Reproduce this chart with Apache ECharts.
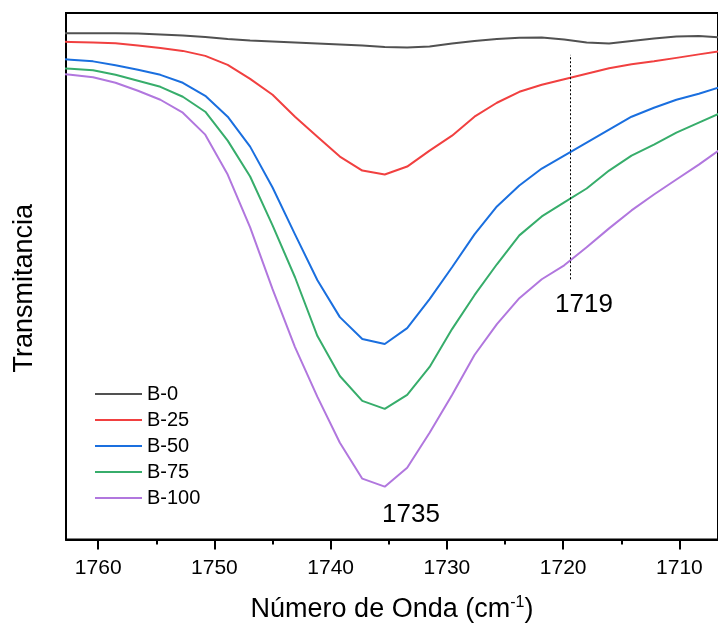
<!DOCTYPE html>
<html>
<head>
<meta charset="utf-8">
<title>Transmitancia</title>
<script src="https://cdn.jsdelivr.net/npm/echarts@6/dist/echarts.min.js"></script>
<style>
  html, body { margin: 0; padding: 0; background: #fff; }
  #chart { width: 718px; height: 628px; }
</style>
</head>
<body>
<div id="chart"></div>
<script>
// wavenumber (cm-1), data points about 1.93 cm-1 apart
const wavenumber = [1764.30, 1762.37, 1760.44, 1758.51, 1756.58, 1754.65, 1752.72, 1750.79,
  1748.86, 1746.93, 1745.00, 1743.07, 1741.14, 1739.21, 1737.28, 1735.35, 1733.42, 1731.49,
  1729.56, 1727.63, 1725.70, 1723.77, 1721.84, 1719.91, 1717.98, 1716.05, 1714.12, 1712.19,
  1710.26, 1708.33, 1706.40];

// transmittance, arbitrary units
const b0 = [507.7, 507.7, 507.7, 507.7, 507.5, 506.5, 505.5, 504, 502, 500.5, 499.5, 498.5,
  497.5, 496.5, 495.5, 494, 493.5, 494.5, 497.5, 500, 502, 503.2, 503.5, 501.5, 498.5, 497.5,
  500, 502.5, 504.5, 505, 503.5];
const b25 = [499.5, 499, 498.5, 497.7, 495.5, 493, 490, 485, 476, 462, 446, 424, 404, 384,
  370, 366, 374, 390, 405, 424, 438, 449, 456, 461.5, 467, 472.5, 476.5, 479.5, 483, 486.5, 490];
const b50 = [482.5, 481.2, 479.5, 475.5, 471, 466, 458, 445, 424, 394, 353, 306, 260, 223,
  201, 196, 212, 241, 273, 306, 334, 355, 372, 385, 398, 411, 424, 433, 441, 447, 454];
const b75 = [473, 472, 470.5, 466, 460, 454, 444, 429, 400, 364, 315, 263, 204, 164, 139,
  131, 145, 173, 211, 245, 276, 305, 324, 338, 352, 370, 385, 396, 408, 418, 428];
const b100 = [468, 466, 463.5, 458, 450, 441, 428, 406, 366, 313, 251, 193, 143, 97, 61, 53,
  72, 107, 145, 185, 216, 242, 261, 275, 293, 312, 330, 346, 361, 376, 392];

const seriesNames = ['B-0', 'B-25', 'B-50', 'B-75', 'B-100'];
const seriesData = [b0, b25, b50, b75, b100];
const colors = ['#515151', '#F14040', '#1A6FDF', '#37AD6B', '#B177DE'];

const majorTicks = [1710, 1720, 1730, 1740, 1750, 1760];
const minorTicks = [1715, 1725, 1735, 1745, 1755];

// dotted marker at 1719 (y from/to in the same units as the data)
const markerX = 1719.4;
const markerY = [261, 486];

const font = "'Liberation Sans', Arial, sans-serif";
const xMin = 1706.68;
const xMax = 1762.77;

const chart = echarts.init(document.getElementById('chart'));

const series = seriesNames.map((name, i) => {
  const s = {
    name: name,
    type: 'line',
    xAxisIndex: 0,
    data: wavenumber.map((w, j) => [w, seriesData[i][j]]),
    symbol: 'none',
    clip: true,
    lineStyle: { color: colors[i], width: 2 },
    itemStyle: { color: colors[i] },
  };
  if (i === 0) {
    s.markLine = {
      silent: true,
      symbol: ['none', 'none'],
      label: { show: false },
      lineStyle: { color: '#000', width: 1, type: [2, 2] },
      data: [[{ coord: [markerX, markerY[0]] }, { coord: [markerX, markerY[1]] }]],
    };
  }
  return s;
});

const option = {
  animation: false,
  backgroundColor: '#fff',
  textStyle: { fontFamily: font },
  grid: {
    left: 66,
    top: 13,
    right: -3,
    bottom: 87,
    show: true,
    borderColor: '#000',
    borderWidth: 2,
  },
  legend: {
    orient: 'vertical',
    left: 90,
    top: 379,
    icon: 'rect',
    itemWidth: 47,
    itemHeight: 2,
    itemGap: 6,
    textStyle: { fontSize: 20, color: '#000', fontFamily: font, lineHeight: 20 },
    data: seriesNames,
  },
  xAxis: [
    {
      type: 'value',
      inverse: true,
      min: xMin,
      max: xMax,
      position: 'bottom',
      name: 'Número de Onda (cm{sup|-1})',
      nameLocation: 'middle',
      nameGap: 55,
      nameTextStyle: {
        fontSize: 27,
        color: '#000',
        fontFamily: font,
        rich: {
          sup: { fontSize: 16, verticalAlign: 'top', padding: [0, 0, 14, 0], color: '#000', fontFamily: font },
        },
      },
      axisLine: { lineStyle: { color: '#000', width: 2 } },
      axisTick: { customValues: majorTicks, length: 10, lineStyle: { color: '#000', width: 2 } },
      axisLabel: {
        customValues: majorTicks,
        formatter: (v) => String(Math.round(v)),
        fontSize: 21,
        color: '#000',
        margin: 18,
        fontFamily: font,
      },
      splitLine: { show: false },
    },
    {
      type: 'value',
      inverse: true,
      min: xMin,
      max: xMax,
      position: 'bottom',
      axisLine: { show: false },
      axisTick: { customValues: minorTicks, length: 5, lineStyle: { color: '#000', width: 2 } },
      axisLabel: { show: false },
      splitLine: { show: false },
    },
  ],
  yAxis: {
    type: 'value',
    min: 0,
    max: 528,
    name: 'Transmitancia',
    nameLocation: 'middle',
    nameGap: 28,
    nameTextStyle: { fontSize: 27, color: '#000', fontFamily: font, padding: [0, 24, 0, 0] },
    axisLine: { show: true, lineStyle: { color: '#000', width: 2 } },
    axisTick: { show: false },
    axisLabel: { show: false },
    splitLine: { show: false },
  },
  graphic: [
    {
      type: 'text',
      x: 411,
      y: 515,
      style: { text: '1735', font: '26px ' + font, fill: '#000', textAlign: 'center', textVerticalAlign: 'middle' },
    },
    {
      type: 'text',
      x: 584,
      y: 305,
      style: { text: '1719', font: '26px ' + font, fill: '#000', textAlign: 'center', textVerticalAlign: 'middle' },
    },
  ],
  series: series,
};

chart.setOption(option);
</script>
</body>
</html>
